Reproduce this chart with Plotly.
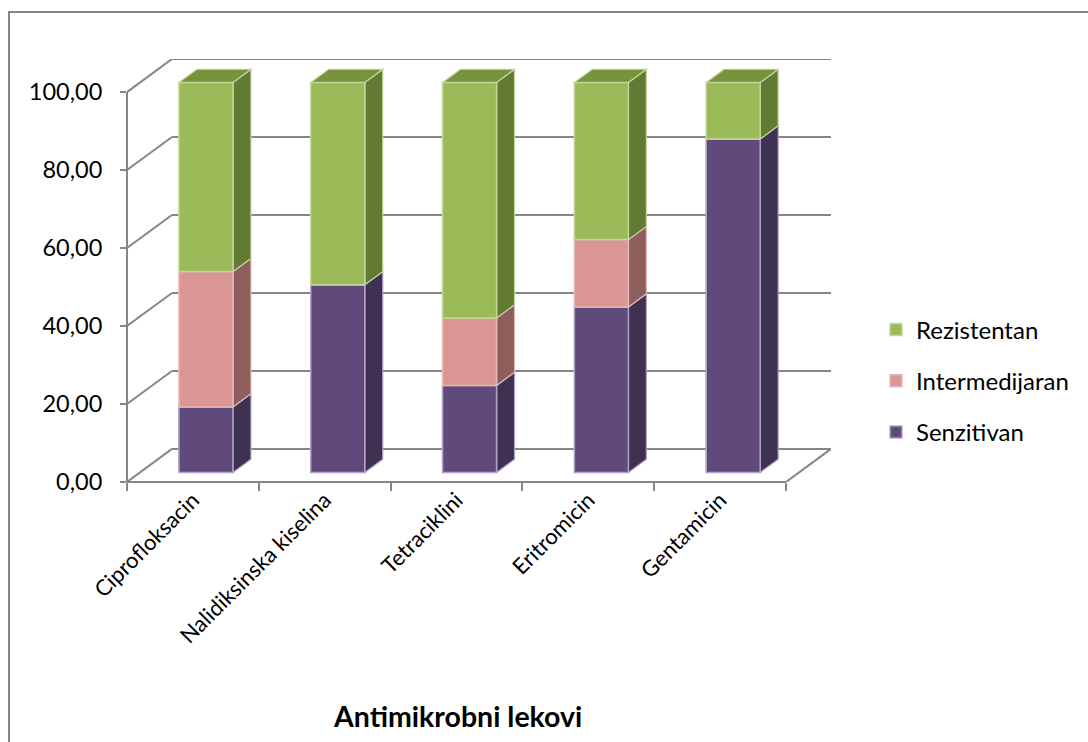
import plotly.graph_objects as go

# Susceptibility of isolates per antimicrobial drug (%)
drugs = ["Ciprofloksacin", "Nalidiksinska kiselina", "Tetraciklini", "Eritromicin", "Gentamicin"]
senzitivan = [16.8, 48.1, 22.3, 42.4, 85.5]
intermedijaran = [34.7, 0.0, 17.3, 17.3, 0.0]
rezistentan = [48.5, 51.9, 60.4, 40.3, 14.5]
y_ticks = [0, 20, 40, 60, 80, 100]

series = [
    # name, values, front, side, top, edge, legend rank
    ("Senzitivan", senzitivan, "#604A7B", "#3F3152", "#4E3D66", "#B3A2C7", 3),
    ("Intermedijaran", intermedijaran, "#D99694", "#8E5E5D", "#B57876", "#E6B9B8", 2),
    ("Rezistentan", rezistentan, "#9BBB59", "#637A33", "#77933C", "#C3D69B", 1),
]

# pseudo-3D geometry (data units)
WALL_DX = 0.341      # depth of the floor/back wall along x
WALL_DY = 8.48       # depth of the floor/back wall along y
BAR_FRONT = 0.29     # bar front plane as a fraction of the wall depth
BAR_DEPTH = 0.40     # bar depth as a fraction of the wall depth
BAR_W = 0.41
GRID = "#868686"
FONT = "Lato"

ox, oy = BAR_FRONT * WALL_DX, BAR_FRONT * WALL_DY
bdx, bdy = BAR_DEPTH * WALL_DX, BAR_DEPTH * WALL_DY
n = len(drugs)

shapes = []


def line(x0, y0, x1, y1, xref="x", yref="y"):
    shapes.append(dict(type="line", xref=xref, yref=yref, x0=x0, y0=y0, x1=x1, y1=y1,
                       line=dict(color=GRID, width=2), layer="below"))


def poly(pts, fill, edge):
    path = "M" + " L".join(f"{x},{y}" for x, y in pts) + " Z"
    shapes.append(dict(type="path", xref="x", yref="y", path=path, fillcolor=fill,
                       line=dict(color=edge, width=1.2), layer="below"))


# back wall grid lines and left wall diagonals
for t in y_ticks:
    line(WALL_DX, t + WALL_DY, n + WALL_DX, t + WALL_DY)
    if t > 0:
        line(0, t, WALL_DX, t + WALL_DY)
# floor
line(0, 0, WALL_DX, WALL_DY)
line(n, 0, n + WALL_DX, WALL_DY)
line(0, 0, n, 0, yref="paper")
# front value axis
line(0, 0, 0, 100, xref="paper")

fig = go.Figure()

base = [0.0] * n
for si, (name, vals, front, side, top, edge, rank) in enumerate(series):
    bases = [b + oy for b in base]
    fig.add_trace(go.Bar(
        name=name, x=[i + 0.5 + ox for i in range(n)], y=vals, base=bases,
        width=BAR_W, marker=dict(color=front, line=dict(color=edge, width=1.5)),
        legendgroup=name, legendrank=rank, hoverinfo="skip",
    ))
    for i in range(n):
        v = vals[i]
        if v <= 0:
            continue
        xl = i + 0.5 + ox - BAR_W / 2
        xr = xl + BAR_W
        yb = bases[i]
        yt = yb + v
        poly([(xr, yb), (xr + bdx, yb + bdy), (xr + bdx, yt + bdy), (xr, yt)], side, edge)
        if si == len(series) - 1:
            poly([(xl, yt), (xr, yt), (xr + bdx, yt + bdy), (xl + bdx, yt + bdy)], top, edge)
    base = [b + v for b, v in zip(base, vals)]

# carrier for the category boundary tick marks
fig.add_trace(go.Scatter(x=[0], y=[0], xaxis="x2", mode="none", showlegend=False,
                         hoverinfo="skip"))

# outer chart border
shapes.append(dict(type="rect", xref="paper", yref="paper",
                   x0=(9 - 127) / 704, x1=(1096 - 127) / 704,
                   y0=(482 - 760) / 423, y1=(482 - 12) / 423,
                   line=dict(color="#868686", width=2), layer="below"))

fig.update_layout(
    width=1088, height=742,
    margin=dict(l=127, r=257, t=59, b=260),
    paper_bgcolor="white", plot_bgcolor="white",
    barmode="overlay", separators=",.",
    font=dict(family=FONT, size=22, color="black"),
    shapes=shapes,
    xaxis=dict(range=[0, n + WALL_DX], tickvals=[i + 0.5 for i in range(n)], ticktext=drugs,
               tickangle=-45, ticks="", showgrid=False, zeroline=False, showline=False,
               tickfont=dict(size=22)),
    xaxis2=dict(range=[0, n + WALL_DX], overlaying="x", side="bottom", anchor="y",
                tickvals=list(range(n + 1)), ticks="outside", ticklen=8, tickwidth=2,
                tickcolor=GRID, showticklabels=False, showgrid=False, zeroline=False,
                showline=False),
    yaxis=dict(range=[0, 100 + WALL_DY], tickvals=y_ticks, tickformat=".2f",
               ticks="outside", ticklen=6, tickwidth=2, tickcolor=GRID,
               ticklabelstandoff=13, showgrid=False, zeroline=False, showline=False,
               tickfont=dict(size=23.5)),
    legend=dict(x=(876 - 127) / 704, y=(482 - 381) / 423, xanchor="left", yanchor="middle",
                traceorder="grouped", tracegroupgap=17,
                font=dict(size=24), itemwidth=30, bgcolor="rgba(0,0,0,0)"),
    annotations=[dict(text="<b>Antimikrobni lekovi</b>", xref="paper", yref="paper",
                      x=(457 - 127) / 704, y=(482 - 716) / 423, xanchor="center",
                      yanchor="middle", showarrow=False, font=dict(size=28.5))],
    showlegend=True,
)

fig.write_html("out.html")
